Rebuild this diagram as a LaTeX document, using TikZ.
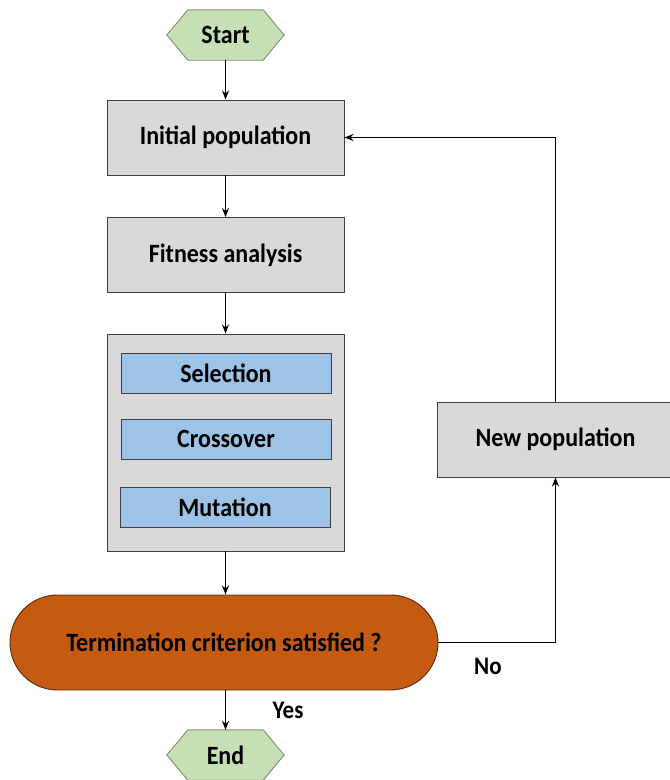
\documentclass[tikz,border=0pt]{standalone}
\usepackage{graphicx}
\usepackage{fontspec}
\setmainfont{Carlito}
\usetikzlibrary{shapes.misc,arrows.meta,calc}
\definecolor{hexgreen}{HTML}{C5E0B4}
\definecolor{hexedge}{HTML}{7F8F76}
\definecolor{boxgray}{HTML}{D9D9D9}
\definecolor{boxedge}{HTML}{404040}
\definecolor{stepblue}{HTML}{9DC3E6}
\definecolor{termfill}{HTML}{C55A11}
\definecolor{termedge}{HTML}{5A2A08}
% slightly tall, condensed lettering
\newcommand{\tall}[1]{\scalebox{1}[1.1]{#1}}
\tikzset{
  every node/.style={font=\bfseries\fontsize{24}{28}\selectfont, text=black},
  graybox/.style={rectangle, draw=boxedge, line width=0.9pt, fill=boxgray,
    minimum width=237pt, minimum height=75pt, inner sep=0pt},
  opbox/.style={rectangle, draw=boxedge, line width=0.9pt, fill=stepblue,
    minimum width=210pt, minimum height=40pt, inner sep=0pt},
  hexnode/.style={rectangle, minimum width=117pt, minimum height=50pt, inner sep=0pt},
  hexpath/.style={draw=hexedge, line width=0.9pt, fill=hexgreen},
  termnode/.style={rounded rectangle, draw=termedge, line width=0.9pt, fill=termfill,
    minimum width=428pt, minimum height=95pt, inner sep=0pt},
  flow/.style={line width=1.5pt, -{Stealth[length=9pt,width=7pt]}},
  lbl/.style={font=\bfseries\fontsize{23}{27}\selectfont}
}
% draw a flat-topped hexagon around a named node
\newcommand{\hexaround}[1]{%
  \draw[hexpath] (#1.west) -- ($(#1.north west)+(21,0)$) -- ($(#1.north east)+(-21,0)$)
    -- (#1.east) -- ($(#1.south east)+(-21,0)$) -- ($(#1.south west)+(21,0)$) -- cycle;}
\begin{document}
\begin{tikzpicture}[x=1pt,y=-1pt]
\useasboundingbox (0,0) rectangle (670,780);

% start / end terminals
\node[hexnode] (start) at (225.5,35) {};
\hexaround{start}
\node at (start) {\tall{Start}};

\node[hexnode] (end) at (225.5,755) {};
\hexaround{end}
\node at (end) {\tall{End}};

% main process blocks
\node[graybox] (init) at (225.5,137.5) {\tall{Initial population}};
\node[graybox] (fit) at (225.5,255) {\tall{Fitness analysis}};
\node[graybox, minimum height=217pt] (ops) at (225.5,442.5) {};
\node[opbox] (sel) at (226,373) {\tall{Selection}};
\node[opbox] (cross) at (226,439) {\tall{Crossover}};
\node[opbox] (mut) at (225,507.5) {\tall{Mutation}};

\node[termnode] (term) at (224,642.5) {\tall{Termination criterion satisfied ?}};

\node[graybox] (newpop) at (555.5,439.5) {\tall{New population}};

% connectors
\draw[flow] (start) -- (init);
\draw[flow] (init) -- (fit);
\draw[flow] (fit) -- (ops);
\draw[flow] (ops.south) -- (ops.south |- term.north);
\draw[flow] (term.south -| end.north) -- (end.north);
\draw[flow] (term.east) -| (newpop.south);
\draw[flow] (newpop.north) |- (init.east);

% branch labels
\node[lbl] (yes) at (288,710) {\tall{Yes}};
\node[lbl] (no) at (488,666) {\tall{No}};
\end{tikzpicture}
\end{document}
